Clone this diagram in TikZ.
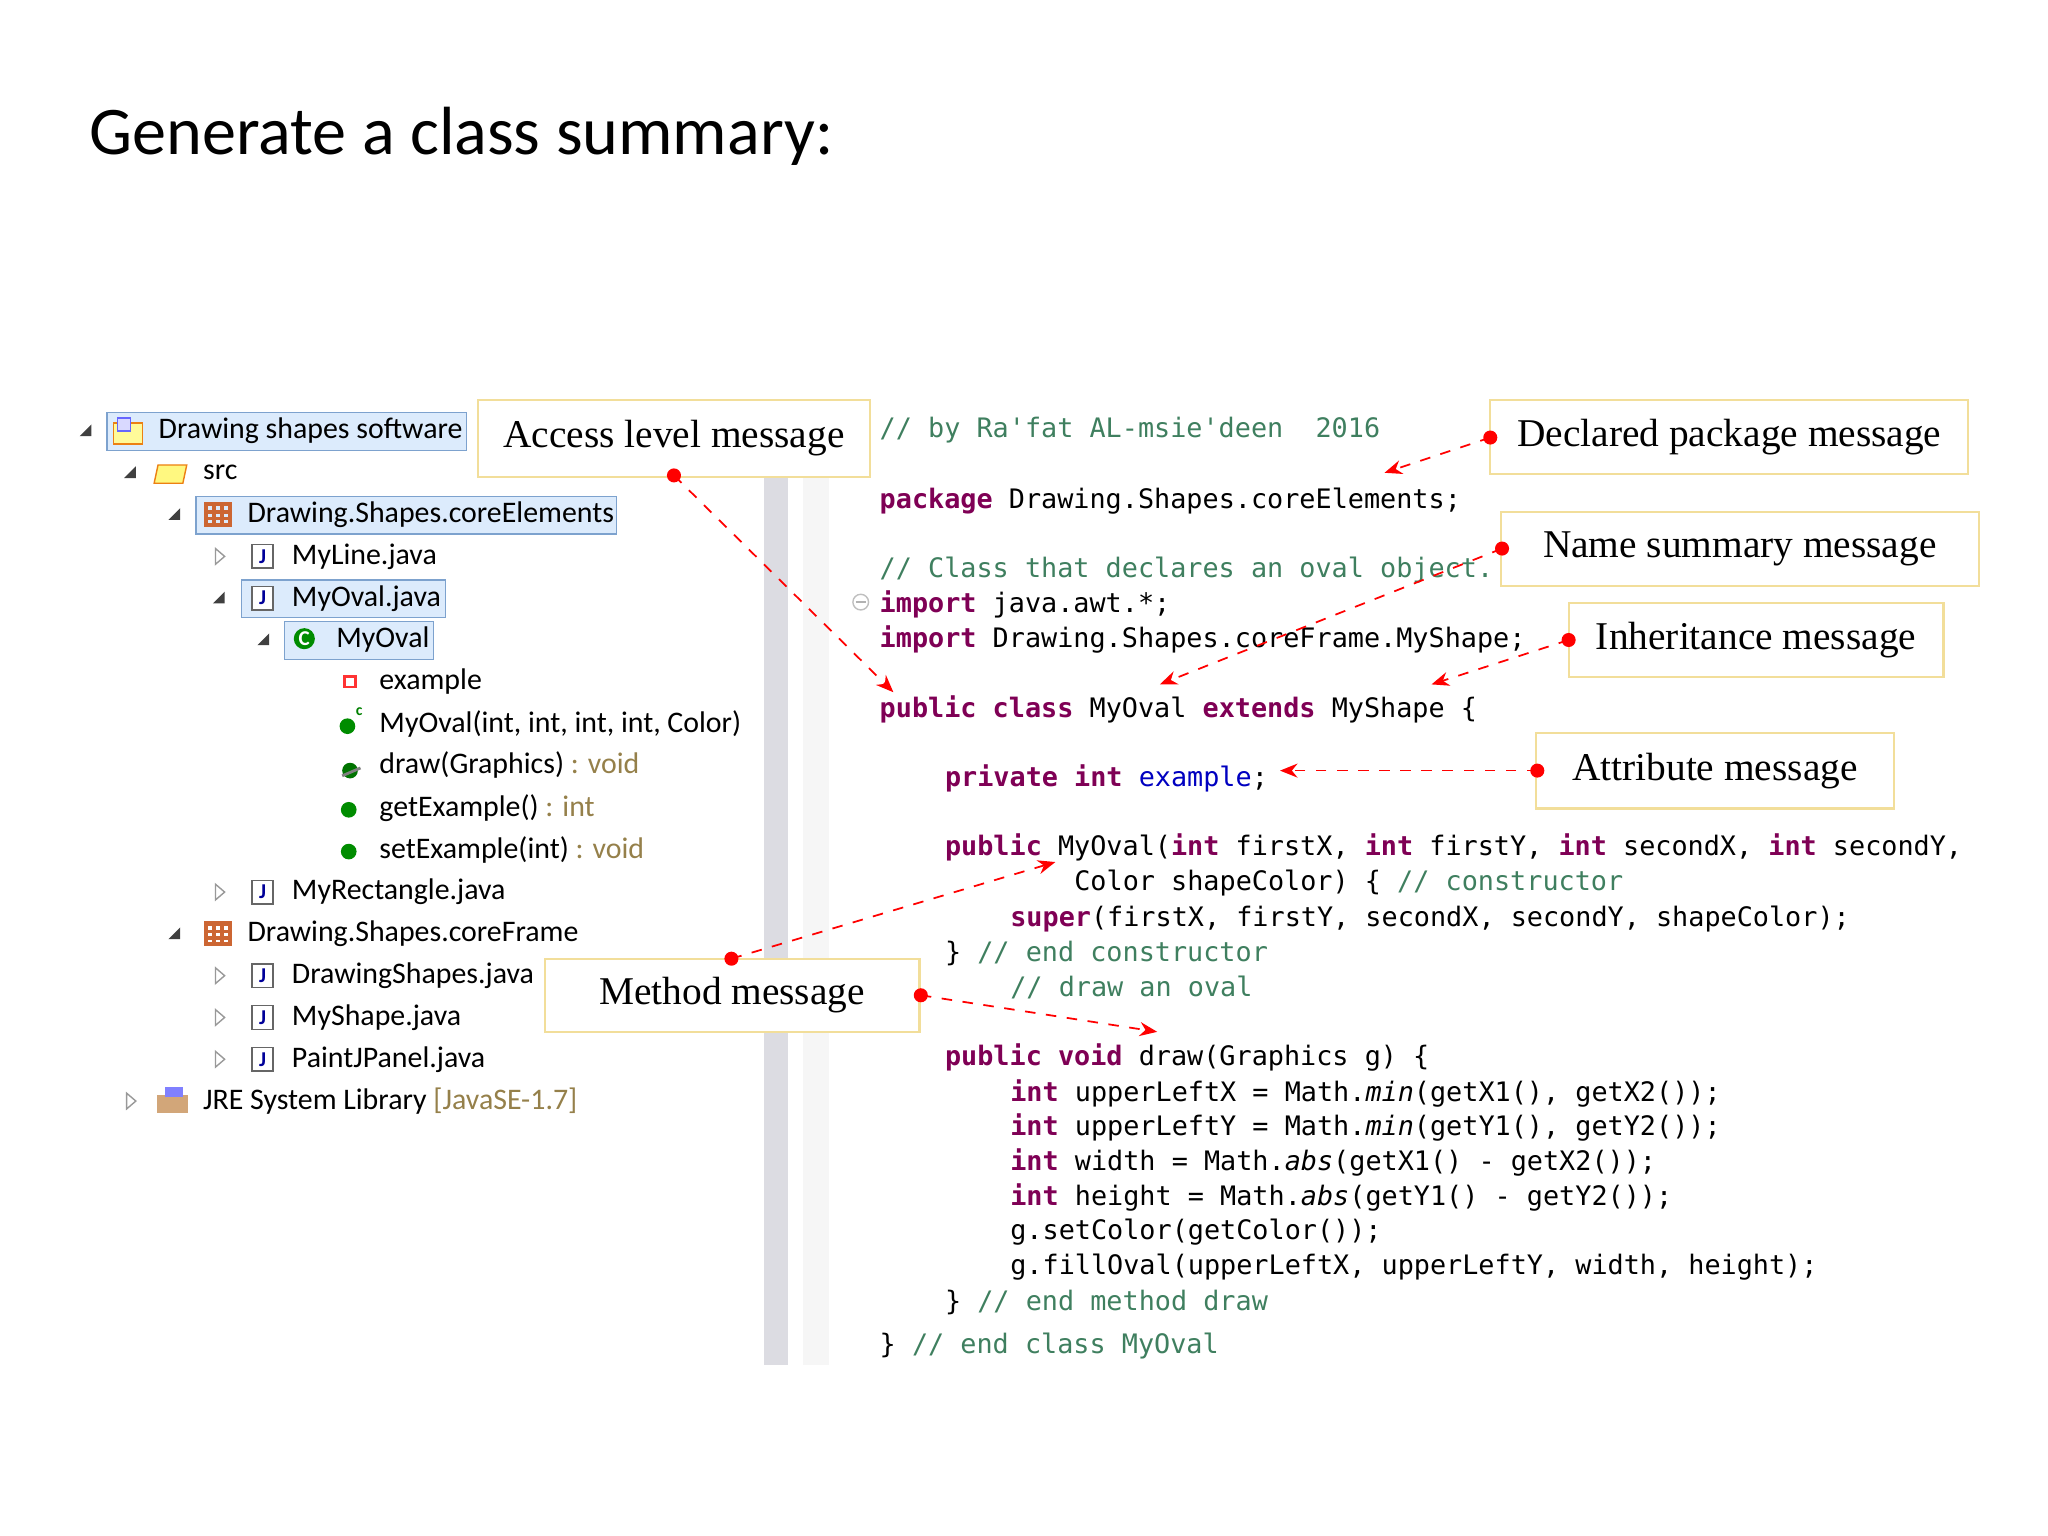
\documentclass[tikz,border=0pt]{standalone}
\usepackage{fontspec}
\setmainfont{Liberation Serif}
\setmonofont{DejaVu Sans Mono}
\newfontfamily\carl{Carlito}
\usetikzlibrary{arrows.meta}
\definecolor{kwc}{HTML}{7F0055}
\definecolor{cmc}{HTML}{3F7F5F}
\definecolor{fdc}{HTML}{0000C0}
\definecolor{selb}{HTML}{7DA2CE}
\definecolor{self}{HTML}{DCEBFC}
\definecolor{boxb}{HTML}{F2DE9A}
\definecolor{grayt}{HTML}{95804A}
\newcommand{\kw}[1]{{\bfseries\color{kwc}#1}}
\newcommand{\cm}[1]{{\color{cmc}#1}}
\newcommand{\fd}[1]{{\color{fdc}#1}}
\newcommand{\gt}[1]{{\color{grayt}#1}}
\tikzset{
 code/.style={anchor=base west,inner sep=0pt,font=\ttfamily\fontsize{7.63}{9}\selectfont},
 tree/.style={anchor=west,inner sep=0pt,font=\carl\fontsize{8.5}{9}\selectfont},
 callout/.style={draw=boxb,fill=white,line width=0.6pt,inner sep=0pt,font=\fontsize{11.2}{13}\selectfont},
 dotc/.style={circle,fill=red,inner sep=0pt,minimum size=4pt},
 arr/.style={red,dashed,line width=0.5pt,-{Stealth[length=5pt,width=4pt]}},
 opentri/.style={draw=gray!80,line width=0.4pt},
 filltri/.style={fill=black!75},
 jicon/.style={draw=black!60,fill=white,line width=0.4pt}
}
\begin{document}
\begin{tikzpicture}[x=0.01306cm,y=-0.01306cm]
\useasboundingbox (0,0) rectangle (1568,1176);
\node[anchor=base west,inner sep=0pt,font=\carl\fontsize{19.4}{22}\selectfont] (title) at (68,118) {Generate a class summary:};
% strips
\fill[blue!10!gray!25] (585,365) rectangle (603,1045);
\fill[gray!7] (615,365) rectangle (635,1045);
% tree selections
\draw[selb,fill=self] (82,316) rectangle (357,345);
\draw[selb,fill=self] (150,380) rectangle (472,409);
\draw[selb,fill=self] (185,444) rectangle (341,473);
\draw[selb,fill=self] (218,476) rectangle (332,505);
% expand arrows
\foreach \x/\y in {66/330,100/362,134/394,168/458,202/490,134/715}
  \fill[filltri] (\x+4,\y-5) -- (\x+4,\y+4) -- (\x-5,\y+4) -- cycle;
\foreach \x/\y in {168/426,168/683,168/747,168/779,168/811,100/843}
  \draw[opentri] (\x-3,\y-6) -- (\x+4,\y) -- (\x-3,\y+6) -- cycle;
% icons
\draw[orange!70!brown,fill=yellow!40] (87,324) rectangle (109,340);
\draw[blue!60,fill=blue!15] (90,320) rectangle (100,330);
\draw[orange!70!brown,fill=yellow!50] (121,356) -- (143,356) -- (140,370) -- (118,370) -- cycle;
\foreach \y in {394,715}{\draw[brown!80!red,line width=1.2pt] (158,\y-8) rectangle (176,\y+8); \draw[brown!80!red,line width=1pt] (164,\y-8)--(164,\y+8) (170,\y-8)--(170,\y+8) (158,\y-2)--(176,\y-2) (158,\y+3)--(176,\y+3);}
\foreach \y in {426,458,683,747,779,811}{\draw[jicon] (193,\y-9) rectangle (209,\y+9); \node[inner sep=0pt,font=\carl\bfseries\fontsize{6}{6}\selectfont,text=blue!60!black] at (201,\y) {J};}
\node[circle,fill=green!55!black,inner sep=0pt,minimum size=6pt,text=white,font=\carl\bfseries\fontsize{6}{6}\selectfont] at (233,489) {C};
\draw[red!80,line width=0.8pt] (264,518) rectangle (272,526);
\fill[green!55!black] (266,556) circle (6);
\node[inner sep=0pt,font=\carl\bfseries\fontsize{4.5}{5}\selectfont,text=green!50!black] at (275,545) {c};
\fill[green!45!black] (268,590) circle (6);
\draw[gray,line width=0.8pt] (262,594)--(276,588);
\fill[green!55!black] (267,620) circle (6);
\fill[green!55!black] (267,652) circle (6);
\fill[brown!70] (120,838) rectangle (144,852); \fill[blue!50] (126,832) rectangle (140,840);
% tree text
\node[tree] (t1) at (121,330) {Drawing shapes software};
\node[tree] (t2) at (155,362) {src};
\node[tree] (t3) at (189,394) {Drawing.Shapes.coreElements};
\node[tree] (t4) at (223,426) {MyLine.java};
\node[tree] (t5) at (223,458) {MyOval.java};
\node[tree] (t6) at (257,490) {MyOval};
\node[tree] (t7) at (290,522) {example};
\node[tree] (t8) at (290,554) {MyOval(int, int, int, int, Color)};
\node[tree] (t9) at (290,586) {draw(Graphics)\gt{\ : void}};
\node[tree] (t10) at (290,619) {getExample()\gt{\ : int}};
\node[tree] (t11) at (290,651) {setExample(int)\gt{\ : void}};
\node[tree] (t12) at (223,683) {MyRectangle.java};
\node[tree] (t13) at (189,715) {Drawing.Shapes.coreFrame};
\node[tree] (t14) at (223,747) {DrawingShapes.java};
\node[tree] (t15) at (223,779) {MyShape.java};
\node[tree] (t16) at (223,811) {PaintJPanel.java};
\node[tree] (t17) at (155,843) {JRE System Library \gt{[JavaSE-1.7]}};
% code
\draw[gray!50,fill=white] (659,461) circle (6); \draw[gray!60] (655,461)--(663,461);
\node[code] (c1) at (673,335) {\cm{// by Ra'fat AL-msie'deen\ \ 2016}};
\node[code] (c2) at (673,389) {\kw{package} Drawing.Shapes.coreElements;};
\node[code] (c3) at (673,442) {\cm{// Class that declares an oval object.}};
\node[code] (c4) at (673,469) {\kw{import} java.awt.*;};
\node[code] (c5) at (673,496) {\kw{import} Drawing.Shapes.coreFrame.MyShape;};
\node[code] (c6) at (673,549) {\kw{public} \kw{class} MyOval \kw{extends} MyShape \{};
\node[code] (c7) at (723,602) {\kw{private} \kw{int} \fd{example};};
\node[code] (c8) at (723,655) {\kw{public} MyOval(\kw{int} firstX, \kw{int} firstY, \kw{int} secondX, \kw{int} secondY,};
\node[code] (c9) at (822,682) {Color shapeColor) \{ \cm{// constructor}};
\node[code] (c10) at (773,709) {\kw{super}(firstX, firstY, secondX, secondY, shapeColor);};
\node[code] (c11) at (723,736) {\} \cm{// end constructor}};
\node[code] (c12) at (773,763) {\cm{// draw an oval}};
\node[code] (c13) at (723,816) {\kw{public} \kw{void} draw(Graphics g) \{};
\node[code] (c14) at (773,843) {\kw{int} upperLeftX = Math.\textit{min}(getX1(), getX2());};
\node[code] (c15) at (773,869) {\kw{int} upperLeftY = Math.\textit{min}(getY1(), getY2());};
\node[code] (c16) at (773,896) {\kw{int} width = Math.\textit{abs}(getX1() - getX2());};
\node[code] (c17) at (773,923) {\kw{int} height = Math.\textit{abs}(getY1() - getY2());};
\node[code] (c18) at (773,949) {g.setColor(getColor());};
\node[code] (c19) at (773,976) {g.fillOval(upperLeftX, upperLeftY, width, height);};
\node[code] (c20) at (723,1003) {\} \cm{// end method draw}};
\node[code] (c21) at (673,1036) {\} \cm{// end class MyOval}};
% callouts
\node[callout,minimum width=300*0.01306cm,minimum height=59*0.01306cm] (b1) at (516,335.5) {Access level message};
\node[callout,minimum width=366*0.01306cm,minimum height=57*0.01306cm] (b2) at (1324,334.5) {Declared package message};
\node[callout,minimum width=366*0.01306cm,minimum height=57*0.01306cm] (b3) at (1332,420.5) {Name summary message};
\node[callout,minimum width=287*0.01306cm,minimum height=56*0.01306cm] (b4) at (1344.5,490) {Inheritance message};
\node[callout,minimum width=274*0.01306cm,minimum height=58*0.01306cm] (b5) at (1313,590) {Attribute message};
\node[callout,minimum width=287*0.01306cm,minimum height=56*0.01306cm] (b6) at (560.5,762) {Method message};
% dots and arrows
\node[dotc] (d1) at (516,364) {};
\node[dotc] (d2) at (1141,335) {};
\node[dotc] (d3) at (1150,420) {};
\node[dotc] (d4) at (1201,490) {};
\node[dotc] (d5) at (1177,590) {};
\node[dotc] (d6) at (560,734) {};
\node[dotc] (d7) at (705,762) {};
\coordinate (e1) at (684,530);
\coordinate (e2) at (1060,362);
\coordinate (e3) at (888,524);
\coordinate (e4) at (1096,524);
\coordinate (e5) at (980,590);
\coordinate (e6) at (808,660);
\coordinate (e7) at (886,790);
\foreach \i in {1,...,7} \draw[arr] (d\i.center) -- (e\i);
\end{tikzpicture}
\end{document}
